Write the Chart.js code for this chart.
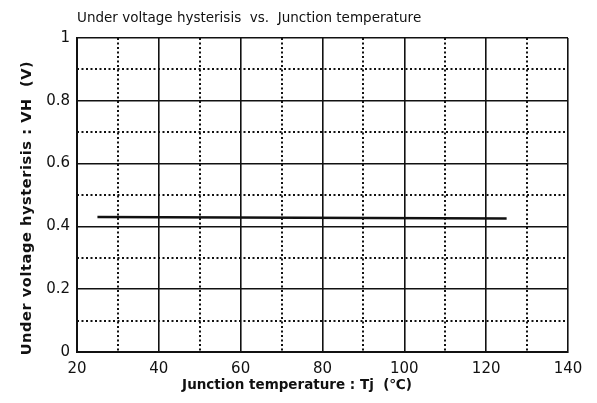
<!DOCTYPE html>
<html>
<head>
<meta charset="utf-8">
<script src="https://cdn.jsdelivr.net/npm/chart.js@4"></script>
<style>
  html, body { margin: 0; padding: 0; background: #fff; }
  #wrap { width: 597px; height: 403px; }
</style>
</head>
<body>
<div id="wrap"><canvas id="chart" width="597" height="403"></canvas></div>
<script>
/* ================= DATA ================= */
const tempPoints = [25, 125];          // Junction temperature Tj (°C)
const hysteresisValues = [0.43, 0.425]; // VH (V)
const xTickLabels = [20, 40, 60, 80, 100, 120, 140];
const yTickLabels = [0, 0.2, 0.4, 0.6, 0.8, 1];

const titleText = "Under voltage hysterisis  vs.  Junction temperature";
const xTitleText = "Junction temperature : Tj  (\u2103)";
const yTitleText = "Under voltage hysterisis : VH  (V)";

const INK = "#111";

/* ================= HELPERS ================= */
function isMajor(list, v) {
  return list.some(t => Math.abs(t - v) < 1e-6);
}

// dotted minor grid + texts
const gridAndText = {
  id: "gridAndText",
  beforeDatasetsDraw(chart) {
    const { ctx, chartArea: a, scales } = chart;
    ctx.save();
    ctx.strokeStyle = INK;
    ctx.lineWidth = 2;
    ctx.setLineDash([2, 2.5]);
    scales.x.ticks.forEach(t => {
      if (isMajor(xTickLabels, t.value)) return;
      const px = Math.round(scales.x.getPixelForValue(t.value));
      ctx.beginPath();
      ctx.moveTo(px, a.top);
      ctx.lineTo(px, a.bottom);
      ctx.stroke();
    });
    scales.y.ticks.forEach(t => {
      if (isMajor(yTickLabels, t.value)) return;
      const py = Math.round(scales.y.getPixelForValue(t.value));
      ctx.beginPath();
      ctx.moveTo(a.left, py);
      ctx.lineTo(a.right, py);
      ctx.stroke();
    });
    ctx.restore();
  },
  afterDraw(chart) {
    const { ctx, chartArea: a } = chart;
    ctx.save();
    ctx.fillStyle = INK;
    ctx.textBaseline = "middle";

    // main title
    ctx.font = "13.5px 'DejaVu Sans'";
    ctx.textAlign = "left";
    ctx.fillText(titleText, a.left, 18);

    // x title
    ctx.font = "bold 13.5px 'DejaVu Sans'";
    ctx.textAlign = "center";
    ctx.fillText(xTitleText, 297, 385);

    // y title
    ctx.font = "bold 14.5px 'DejaVu Sans'";
    ctx.letterSpacing = "0.6px";
    ctx.translate(27, 208);
    ctx.rotate(-Math.PI / 2);
    ctx.fillText(yTitleText, 0, 0);
    ctx.restore();
  }
};

/* ================= CHART ================= */
new Chart(document.getElementById("chart"), {
  type: "scatter",
  data: {
    datasets: [{
      data: tempPoints.map((x, i) => ({ x, y: hysteresisValues[i] })),
      showLine: true,
      borderColor: INK,
      borderWidth: 2.5,
      pointRadius: 0
    }]
  },
  options: {
    responsive: false,
    animation: false,
    layout: { padding: { top: 38, right: 29, left: 0, bottom: 0 } },
    plugins: { legend: { display: false }, tooltip: { enabled: false } },
    scales: {
      x: {
        type: "linear",
        min: 20,
        max: 140,
        ticks: {
          stepSize: 10,
          color: INK,
          font: { family: "'DejaVu Sans'", size: 15 },
          padding: 8,
          maxRotation: 0,
          autoSkip: false,
          callback: v => isMajor(xTickLabels, v) ? String(v) : ""
        },
        grid: {
          color: c => isMajor(xTickLabels, c.tick.value) ? INK : "rgba(0,0,0,0)",
          lineWidth: 1.6,
          drawTicks: false
        },
        border: { color: INK, width: 2 },
        afterFit: s => { s.height = 403 - 352; }
      },
      y: {
        min: 0,
        max: 1,
        ticks: {
          stepSize: 0.1,
          color: INK,
          font: { family: "'DejaVu Sans'", size: 15 },
          padding: 7,
          autoSkip: false,
          callback: v => isMajor(yTickLabels, v) ? String(Math.round(v * 10) / 10) : ""
        },
        grid: {
          color: c => isMajor(yTickLabels, c.tick.value) ? INK : "rgba(0,0,0,0)",
          lineWidth: 1.6,
          drawTicks: false
        },
        border: { color: INK, width: 2 },
        afterFit: s => { s.width = 77; }
      }
    }
  },
  plugins: [gridAndText]
});
</script>
</body>
</html>
